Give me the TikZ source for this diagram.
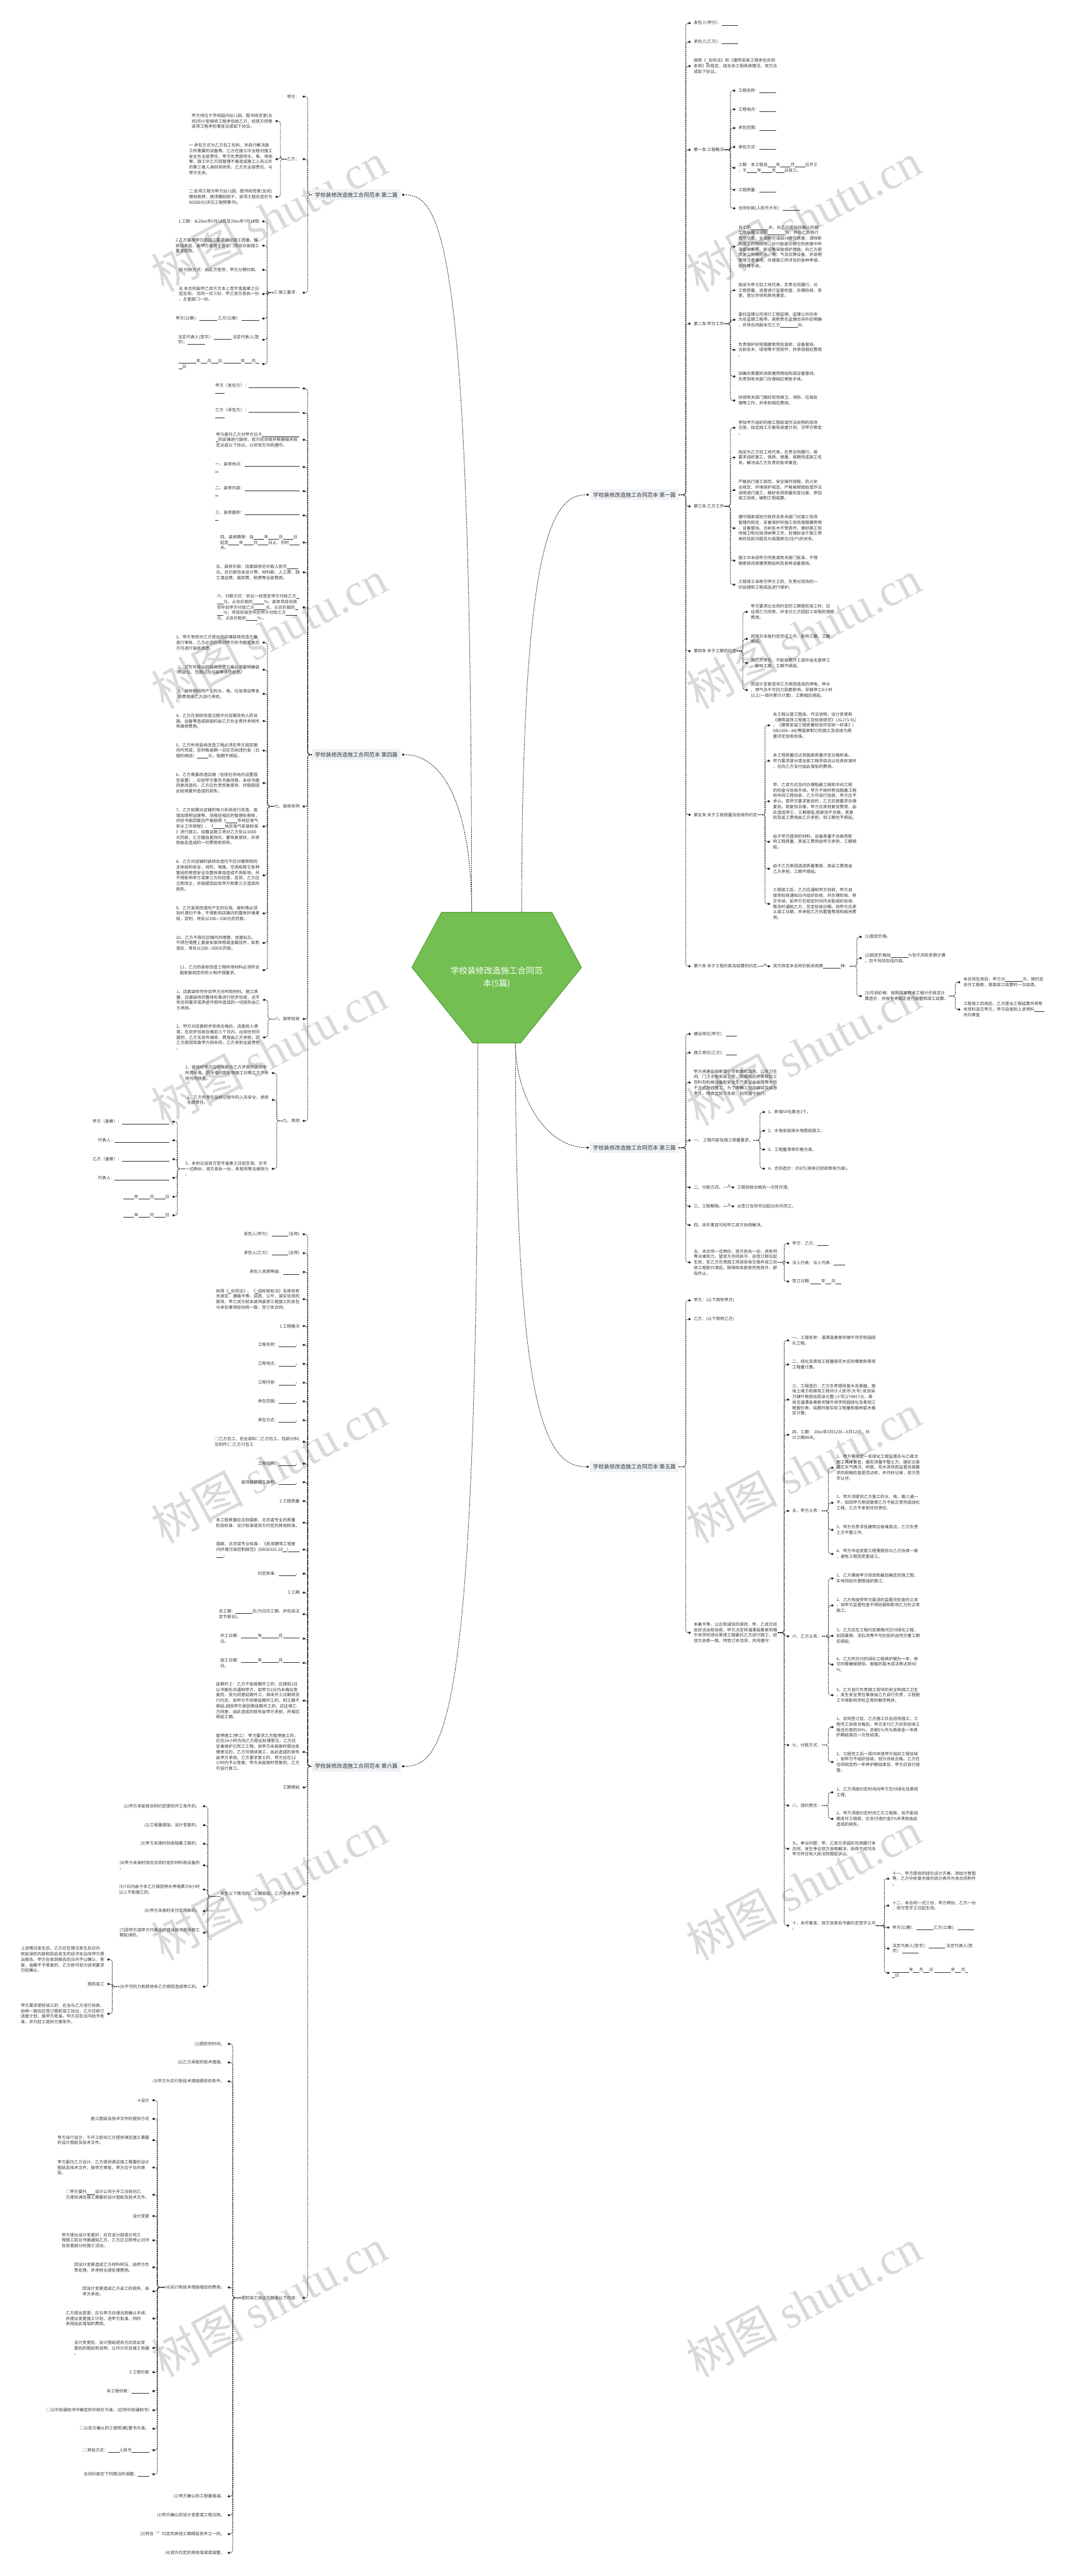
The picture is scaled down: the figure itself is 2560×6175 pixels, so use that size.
\documentclass[tikz,border=0pt]{standalone}
\usepackage{fontspec}
\setmainfont{Noto Sans CJK SC}
\newfontfamily\wmlatin{Liberation Serif}
\usetikzlibrary{shapes.geometric}
\definecolor{hexgreen}{HTML}{74BF52}
\definecolor{hexborder}{HTML}{5EA63E}
\definecolor{lblbg}{HTML}{EEF1F5}
\definecolor{ink}{HTML}{333333}
\newcommand\leaffont{\fontsize{10}{13.2}\selectfont}
\newcommand\lblfont{\fontsize{13}{16}\selectfont}
\newcommand\rootfont{\fontsize{20}{30}\selectfont}
\newcommand\wmfont{\fontsize{110}{110}\selectfont}
\newcommand\bl[1]{\rule[-1.5pt]{#1pt}{0.6pt}}
\tikzset{
  conn/.style={draw=black!80, line width=1.4pt, dash pattern=on 3pt off 2pt, rounded corners=6pt},
  dmd/.style={diamond, fill=black!85, draw=none, inner sep=0pt, minimum width=7pt, minimum height=6pt},
  lleaf/.style={anchor=east, align=left, inner sep=1pt, font=\leaffont, text=ink},
  rleaf/.style={anchor=west, align=left, inner sep=1pt, font=\leaffont, text=ink},
  lbl/.style={fill=lblbg, inner xsep=7pt, inner ysep=7pt, font=\lblfont, text=ink},
  wm/.style={rotate=28, text=black!15, font=\wmfont, inner sep=0pt},
  rootnode/.style={align=center, text=white, font=\rootfont, minimum width=406pt, minimum height=313pt, inner sep=0pt}
}
\newcommand\LC[5]{%
  \coordinate (sp) at ({#3+9},0);
  \node[dmd] (#2d) at (#3,-#4) {};
  \node[lleaf] (#2) at ({#3-9},-#4) {#5};
  \draw[conn] (#1.west) -- (#1.west -| sp) |- (#2d);
}
\newcommand\RC[5]{%
  \coordinate (sp) at ({#3-9},0);
  \node[dmd] (#2d) at (#3,-#4) {};
  \node[rleaf] (#2) at ({#3+9},-#4) {#5};
  \draw[conn] (#1.east) -- (#1.east -| sp) |- (#2d);
}
\begin{document}
\begin{tikzpicture}[x=1pt,y=1pt]
\useasboundingbox (0,0) rectangle (2560,-6175);
\fill[white] (0,0) rectangle (2560,-6175);

% watermarks
\node[wm] (wm1) at (645,-520) {树图 {\wmlatin shutu.cn}};
\node[wm] (wm2) at (645,-1520) {树图 {\wmlatin shutu.cn}};
\node[wm] (wm3) at (645,-2520) {树图 {\wmlatin shutu.cn}};
\node[wm] (wm4) at (645,-3520) {树图 {\wmlatin shutu.cn}};
\node[wm] (wm5) at (645,-4520) {树图 {\wmlatin shutu.cn}};
\node[wm] (wm6) at (645,-5520) {树图 {\wmlatin shutu.cn}};
\node[wm] (wm7) at (1925,-520) {树图 {\wmlatin shutu.cn}};
\node[wm] (wm8) at (1925,-1520) {树图 {\wmlatin shutu.cn}};
\node[wm] (wm9) at (1925,-2520) {树图 {\wmlatin shutu.cn}};
\node[wm] (wm10) at (1925,-3520) {树图 {\wmlatin shutu.cn}};
\node[wm] (wm11) at (1925,-4520) {树图 {\wmlatin shutu.cn}};
\node[wm] (wm12) at (1925,-5520) {树图 {\wmlatin shutu.cn}};

% central node
\filldraw[fill=hexgreen, draw=hexborder, line width=2pt] (987,-2319) -- (1058,-2187) -- (1322,-2187) -- (1393,-2319) -- (1247,-2500) -- (1133,-2500) -- cycle;
\node[rootnode] (root) at (1190,-2343) {学校装修改造施工合同范\\本(5篇)};

% branch labels
\node[lbl, anchor=east] (L2) at (960,-467) {学校装修改造施工合同范本 第二篇};
\node[dmd] (L2d) at (966,-467) {};
\node[lbl, anchor=east] (L4) at (960,-1809) {学校装修改造施工合同范本 第四篇};
\node[dmd] (L4d) at (966,-1809) {};
\node[lbl, anchor=east] (L6) at (960,-4234) {学校装修改造施工合同范本 第六篇};
\node[dmd] (L6d) at (966,-4234) {};
\node[lbl, anchor=west] (R1) at (1414,-1186) {学校装修改造施工合同范本 第一篇};
\node[dmd] (R1d) at (1408,-1186) {};
\node[lbl, anchor=west] (R3) at (1414,-2751) {学校装修改造施工合同范本 第三篇};
\node[dmd] (R3d) at (1408,-2751) {};
\node[lbl, anchor=west] (R5) at (1414,-3516) {学校装修改造施工合同范本 第五篇};
\node[dmd] (R5d) at (1408,-3516) {};

\draw[conn] ([xshift=-60pt]root.north) .. controls (1130,-587) and (1060,-467) .. (L2d);
\draw[conn] ([xshift=-60pt]root.north) .. controls (1130,-1929) and (1060,-1809) .. (L4d);
\draw[conn] ([xshift=-45pt]root.south) .. controls (1145,-4114) and (1070,-4234) .. (L6d);
\draw[conn] ([xshift=60pt]root.north) .. controls (1250,-1306) and (1320,-1186) .. (R1d);
\draw[conn] ([xshift=45pt]root.south) .. controls (1235,-2631) and (1310,-2751) .. (R3d);
\draw[conn] ([xshift=45pt]root.south) .. controls (1235,-3396) and (1310,-3516) .. (R5d);

% ===== 第二篇 =====
\LC{L2}{A1}{728}{231.6}{甲方：}
\LC{L2}{A2}{728}{381.5}{乙方：}
\LC{L2}{A3}{728}{701.7}{三 施工要求：}
\LC{A2}{A21}{663}{290.3}{甲方将位于学校园内幼儿园，图书阅览室(五\\间)的小型维修工程承包给乙方，经双方同意\\该项工程承包事宜达成如下协议。}
\LC{A2}{A22}{663}{381.5}{一 承包方式为乙方包工包料，并自行解决施\\工所需要的设备等。乙方在施工中全程对施工\\安全负全部责任，甲方负责提供水，电，场地\\等。施工中乙方因管理不善造成施工人员以外\\的第三者人身财务损失，乙方负全部责任，与\\甲方无关。}
\LC{A2}{A23}{663}{472}{二 此项工程为甲方幼儿园。图书阅览室(五间)\\铺地板砖，换顶棚刮腻子。该项工程总造价为\\50300元(详见工程预算书)。}
\LC{A3}{A31}{631}{530.7}{1 工期：从20xx年5月18日至20xx年7月18日}
\LC{A3}{A32}{631}{588.8}{2 乙方要按甲方的施工要求保证施工质量，维\\修结束后，由甲方邀请主管部门项目办按施工\\要求验收。}
\LC{A3}{A33}{631}{646.8}{四 付款方式：由乙方垫资，甲方分期付款。}
\LC{A3}{A34}{631}{704.8}{五 本合同由甲乙双方文本上签字或盖章之日\\起生效。 合同一式三份，甲乙双方各执一份\\，主管部门一份。}
\LC{A3}{A35}{631}{763.5}{甲方(公章)：\bl{42} 乙方(公章)：\bl{42}}
\LC{A3}{A36}{631}{814.5}{法定代表人(签字)：\bl{42} 法定代表人(签\\字)：\bl{42}}
\LC{A3}{A37}{631}{872.6}{\bl{42}年\bl{16}月\bl{16}日 \bl{42}年\bl{16}月\bl{8}\\\bl{8}日}

% ===== 第四篇 =====
\LC{L4}{B1}{728}{931.3}{甲方（发包方）：\bl{122}\\\bl{22}}
\LC{L4}{B2}{728}{990}{乙方（承包方）：\bl{122}\\\bl{22}}
\LC{L4}{B3}{728}{1054.3}{甲方委托乙方对甲方位于\bl{90}\\\bl{5}的店铺进行装修，双方经协商并根据相关规\\定达成以下协议，以供双方共同遵守。}
\LC{L4}{B4}{728}{1119.4}{一、装修地点：\bl{132}\\\bl{8}}
\LC{L4}{B5}{728}{1177.4}{二、装修内容：\bl{132}\\\bl{8}}
\LC{L4}{B6}{728}{1235.5}{三、装修面积：\bl{132}\\\bl{8}}
\LC{L4}{B7}{728}{1300.5}{四、装修期限：自\bl{25}年\bl{25}月\bl{25}日\\起至\bl{25}年\bl{25}月\bl{25}日止，历时\bl{25}\\天。}
\LC{L4}{B8}{728}{1372}{五、装修价款：店面装修总价款人民币\bl{27}\\元。总价款包含设计费、材料款、人工费、施\\工清运费、装卸费、税费等全部费用。}
\LC{L4}{B9}{728}{1456.1}{六、付款方式：协议一经签定甲方付给乙方\bl{8}\\\bl{16}元，占总价款的\bl{27}\%；装修项目验收\\完毕后甲方付给乙方\bl{27}元，占总价款的\bl{8}\\\bl{16}\%；项目验收完毕后甲方付给乙方\bl{27}\\元，占总价款的\bl{27}\% 。}
\LC{L4}{B10}{728}{1933.2}{七、装修条例}
\LC{L4}{B11}{728}{2442.7}{八、装修验收}
\LC{L4}{B12}{728}{2687}{九、其他}
\LC{B10}{B10a}{632}{1540.3}{1、甲方有权对乙方提出的店铺装修改造方案\\进行审核，乙方必须在得到甲方的书面批复后\\方可进行装修改造。}
\LC{B10}{B10b}{632}{1605.4}{2、乙方所提出的装修改造方案必须要明确装\\饰部位、范围以及内容等详尽信息。}
\LC{B10}{B10c}{632}{1663.4}{3、装修期间所产生的水、电、垃圾清运等各\\项费用由乙方自行承担。}
\LC{B10}{B10d}{632}{1728.4}{4、乙方在装修改造过程中对店铺及他人的设\\施、设备等造成损毁的由乙方负全责并承担所\\有维修费用。}
\LC{B10}{B10e}{632}{1799.2}{5、乙方所有装修改造工程必须在甲方规定期\\间内完成，否则每逾期一日应交纳违约金（日\\租的两倍）\bl{27}元，租期不顺延。}
\LC{B10}{B10f}{632}{1877}{6、乙方需要改造店铺（包括在场地内设置固\\定装置），应经甲方事先书面同意。未经书面\\同意改造的，乙方应负责恢复原状，并赔偿因\\此给商厦所造成的损失。}
\LC{B10}{B10g}{632}{1981}{7、乙方如需对店铺的电力系统进行改造，或\\增加照明设施等，须报经相应的管理处审核，\\并经书面回复后严格按照《\bl{27}市地区电气\\安全工作规程》、《\bl{27}地区电气安装标准\\》进行施工。如擅自施工将对乙方处以1000\\元罚款，乙方擅自更改的，要恢复原状，并承\\担由此造成的一切费用和损失。}
\LC{B10}{B10h}{632}{2098.3}{8、乙方对店铺的装修改造均不应对建筑物的\\主体结构安全，消防、电路、空调和其它各种\\管线的使用安全及整体美观造成不良影响，并\\不得影响甲方或第三方的经营，否则，乙方应\\立即改正，并赔偿因此给甲方和第三方造成的\\损失。}
\LC{B10}{B10i}{632}{2189.5}{9、乙方装修改造所产生的垃圾、废料等必须\\及时清扫干净，不得影响店铺内的整体环境美\\观，否则，将处以200—500元的罚款。}
\LC{B10}{B10j}{632}{2260.3}{10、乙方不得在店铺内的墙壁、地面钻孔，\\不得在墙壁上直接安装饰物或金属挂件，如有\\违反，将处以200—500元罚款。}
\LC{B10}{B10k}{632}{2325.4}{11、乙方的装修改造工程所用材料必须符合\\国家按规定的防火和环保要求。}
\LC{B11}{B11a}{633}{2396.8}{1、店面装修完毕后甲方对所用材料、施工质\\量、店面装修的整体形象进行初步验收，达不\\到合同要求或弄虚作假所造成的一切损失由乙\\方承担。}
\LC{B11}{B11b}{633}{2486.7}{2、甲方对店面初步验收合格后，店面投入使\\用，在初步验收合格后三个月内，出现任何问\\题的，乙方无条件维修，费用由乙方承担。因\\乙方原因导致甲方损失的，乙方承担全部责任\\。}
\LC{B12}{B12a}{654}{2572.2}{1、装修时甲方应积极配合乙方并提供装修中\\所用水电。因水电问题影响施工日期乙方不承\\担任何损失。}
\LC{B12}{B12b}{654}{2636.6}{2、乙方负责在装修过程中的人员安全，承担\\全部责任。}
\LC{B12}{B12c}{654}{2801.8}{3、本协议自双方签字盖章之日起生效。文书\\一式两份，双方各执一份，具有同等法律效力\\。}
\LC{B12c}{B12c1}{416}{2688.9}{甲方（盖章）：\bl{114}}
\LC{B12c}{B12c2}{416}{2733.5}{代表人：\bl{131}}
\LC{B12c}{B12c3}{416}{2778.8}{乙方（盖章）：\bl{114}}
\LC{B12c}{B12c4}{416}{2823.5}{代表人：\bl{131}}
\LC{B12c}{B12c5}{416}{2868.7}{\bl{27}年\bl{27}月\bl{27}日}
\LC{B12c}{B12c6}{416}{2913.4}{\bl{27}年\bl{27}月\bl{27}日}

% ===== 第六篇 =====
\LC{L6}{C1}{728}{2958.7}{发包人(甲方)：\bl{40}(全称)}
\LC{L6}{C2}{728}{3003.9}{承包人(乙方)：\bl{40}(全称)}
\LC{L6}{C3}{728}{3049.2}{承包人资质等级：\bl{40}}
\LC{L6}{C4}{728}{3114.3}{依照《\bl{5}合同法》、《\bl{5}招标投标法》及其他有\\关规定，遵循平等、自愿、公平、诚实信用的\\原则，甲乙双方就本装饰装修工程施工的发包\\与承包事项经协商一致，签订本合同。}
\LC{L6}{C5}{728}{3178.7}{1 工程概况}
\LC{L6}{C6}{728}{3224}{工程名称：\bl{40}。}
\LC{L6}{C7}{728}{3269.3}{工程地点：\bl{40}。}
\LC{L6}{C8}{728}{3314.5}{工程内容：\bl{40}。}
\LC{L6}{C9}{728}{3359.2}{承包范围：\bl{40}。}
\LC{L6}{C10}{728}{3404.5}{承包方式：\bl{40}。}
\LC{L6}{C11}{728}{3456.1}{□乙方包工、包全部料□乙方包工、包部分料(\\见附件)□乙方只包工}
\LC{L6}{C12}{728}{3508.4}{工程结构：\bl{40}。}
\LC{L6}{C13}{728}{3553}{装饰装修施工面积：\bl{40}。}
\LC{L6}{C14}{728}{3598.3}{2 工程质量}
\LC{L6}{C15}{728}{3650}{本工程质量应达到国家、北京或专业的质量\\检验标准、设计标准或双方约定的其他标准。}
\LC{L6}{C16}{728}{3714.4}{国家、北京或专业标准：《民用建筑工程室\\内环境污染控制规范》(GB50325-20\bl{10})\bl{27}\\\bl{17}。}
\LC{L6}{C17}{728}{3772.4}{约定标准：\bl{40}。}
\LC{L6}{C18}{728}{3817.7}{3 工期}
\LC{L6}{C19}{728}{3869.4}{总工期：\bl{40}日(为日历工期，并包括法\\定节假日)。}
\LC{L6}{C20}{728}{3928}{开工日期：\bl{40}年\bl{40}月\bl{40}\\日。}
\LC{L6}{C21}{728}{3986.1}{竣工日期：\bl{40}年\bl{40}月\bl{40}\\日。}
\LC{L6}{C22}{728}{4076.7}{延期开工：乙方不能按期开工的，应提前2日\\以书面形式通知甲方，如甲方2日内未做出答\\复的，视为同意延期开工，具体开工日期将另\\行约定。如甲方不同意延期开工的，则工期不\\顺延;如因甲方原因需延期开工的，应征得乙\\方同意，由此造成的损失由甲方承担，并相应\\顺延工期。}
\LC{L6}{C23}{728}{4199.7}{暂停施工(停工)：甲方要求乙方暂停施工的，\\应在24小时内向乙方提出处理意见，乙方应\\妥善保护已完工工程。如甲方未能按时提出处\\理意见的，乙方可继续施工，由此造成的损失\\由甲方承担。乙方要求复工的，甲方应在12\\小时内予以答复。甲方未能按时答复的，乙方\\可自行复工。}
\LC{L6}{C24}{728}{4284.6}{工期顺延}
\LC{L6}{C25}{728}{4546}{发生以下情况的，工期顺延，乙方不承担责\\任：}
\LC{L6}{C26}{728}{5508.2}{提前竣工协议应包含以下内容：}
\LC{C25}{C25a}{489}{4329.8}{(1)甲方未能按合同约定提供开工条件的。}
\LC{C25}{C25b}{489}{4375.1}{(2)工程量增加、设计变更的。}
\LC{C25}{C25c}{489}{4419.8}{(3)甲方未按时验收隐蔽工程的。}
\LC{C25}{C25d}{489}{4471.4}{(4)甲方未按时供应合同约定的材料和设备的\\。}
\LC{C25}{C25e}{489}{4529.5}{(5)7日内由于非乙方原因停水停电累计8小时\\以上不能施工的。}
\LC{C25}{C25f}{489}{4581.1}{(6)甲方未按时支付工程款的。}
\LC{C25}{C25g}{489}{4632.8}{(7)因甲方或甲方代表坚持错误指令而导致工\\期延误的。}
\LC{C25}{C25h}{489}{4762.2}{(8)不可抗力和其他非乙方原因造成停工的。}
\LC{C25h}{C25h1}{260}{4697.2}{上述情况发生后，乙方应在情况发生后日内\\就延误的内容和因此发生的经济支出向甲方提\\出报告，甲方在收到报告后日内予以确认、答\\复，逾期不予答复的，乙方即可视为该项要求\\已经确认。}
\LC{C25h}{C25h2}{260}{4755.9}{提前竣工}
\LC{C25h}{C25h3}{260}{4827.3}{甲方要求提前竣工的，应当与乙方进行协商，\\协商一致后应签订提前竣工协议，乙方应修订\\进度计划，报甲方批准。甲方应在日内给予批\\准，并为赶工提供方便条件。}
\LC{C26}{C26a}{548.5}{4899.4}{(1)提前的时间。}
\LC{C26}{C26b}{548.5}{4944}{(2)乙方采取的技术措施。}
\LC{C26}{C26c}{548.5}{4989.3}{(3)甲方为实行新技术措施提供的条件。}
\LC{C26}{C26d}{548.5}{5483.3}{(4)实行新技术措施增加的费用。}
\LC{C26}{C26e}{548.5}{5984}{(1)甲方确认的工程量增减。}
\LC{C26}{C26f}{548.5}{6029.1}{(2)甲方确认的设计变更或工程洽商。}
\LC{C26}{C26g}{548.5}{6074.2}{(3)符合“”约定的其他工期顺延条件之一的。}
\LC{C26}{C26h}{548.5}{6119.3}{(4)双方约定的其他增减或调整。}
\LC{C26d}{C26d1}{368}{5034.6}{4 设计}
\LC{C26d}{C26d2}{368}{5079.2}{施工图纸及技术文件的提供方式}
\LC{C26d}{C26d3}{368}{5130.2}{甲方自行设计，于开工前向乙方提供满足施工需要\\的设计图纸及技术文件。}
\LC{C26d}{C26d4}{368}{5195.8}{甲方委托乙方设计，乙方提供满足施工需要的设计\\图纸及技术文件，报甲方审批，甲方应于日内审\\批。}
\LC{C26d}{C26d5}{368}{5261.1}{□甲方委托\bl{20}设计公司于开工日前向乙\\方提供满足施工需要的设计图纸及技术文件。}
\LC{C26d}{C26d6}{368}{5312.1}{设计变更}
\LC{C26d}{C26d7}{368}{5370.3}{甲方提出设计变更的，应在该分部或分项工\\程施工前日书面通知乙方，乙方应立即停止对涉\\及变更部分的施工活动。}
\LC{C26d}{C26d8}{368}{5435}{因设计变更造成乙方材料积压，由甲方负\\责处理，并承担全部处理费用。}
\LC{C26d}{C26d9}{368}{5492.5}{因设计变更造成乙方返工的损失，由\\甲方承担。}
\LC{C26d}{C26d10}{368}{5557.8}{乙方提出变更，应与甲方办理洽商确认手续，\\并提出变更施工计划，送甲方批准，同时\\承担由此增加的费用。}
\LC{C26d}{C26d11}{368}{5628.4}{设计变更后，设计图纸提供方应给出变\\更后的图纸和说明，以作计价及施工依据\\。}
\LC{C26d}{C26d12}{368}{5686.6}{5 工程价款}
\LC{C26d}{C26d13}{368}{5731.7}{本工程价款：\bl{42}}
\LC{C26d}{C26d14}{368}{5777.5}{□以中标通知书中确定的中标价为准。(应附中标通知书)}
\LC{C26d}{C26d15}{368}{5821.9}{□以双方确认的工程预(概)算书为准。}
\LC{C26d}{C26d16}{368}{5873.5}{□其他方式：\bl{27}人民币\bl{42}}
\LC{C26d}{C26d17}{368}{5931}{合同价款在下列情况时调整：\bl{27}}

% ===== 第一篇 =====
\RC{R1}{D1}{1652}{55.5}{发包人(甲方)：\bl{40}}
\RC{R1}{D2}{1652}{100.4}{承包人(乙方)：\bl{40}}
\RC{R1}{D3}{1652}{158.6}{按照《\bl{5}合同法》和《建筑安装工程承包合同\\条例》的规定，结合本工程具体情况，双方达\\成如下协议。}
\RC{R1}{D4}{1652}{359.1}{第一条 工程概况}
\RC{R1}{D5}{1652}{775.9}{第二条 甲方工作}
\RC{R1}{D6}{1652}{1213.7}{第三条 乙方工作}
\RC{R1}{D7}{1652}{1560.6}{第四条 关于工期的约定}
\RC{R1}{D8}{1652}{1953}{第五条 关于工程质量及验收的约定}
\RC{R1}{D9}{1652}{2316.2}{第六条 关于工程价款及结算的约定}
\RC{D4}{D4a}{1759}{217.2}{工程名称：\bl{40}.}
\RC{D4}{D4b}{1759}{262.1}{工程地点：\bl{40}.}
\RC{D4}{D4c}{1759}{307}{承包范围：\bl{40}.}
\RC{D4}{D4d}{1759}{352.4}{承包方式：\bl{40}.}
\RC{D4}{D4e}{1759}{402.4}{工期：本工程自\bl{20}年\bl{25}月\bl{25}日开工\\，于\bl{25}年\bl{25}月\bl{20}日竣工。}
\RC{D4}{D4f}{1759}{455}{工程质量：\bl{40}.}
\RC{D4}{D4g}{1759}{499.4}{合同价款(人民币大写)：\bl{40}.}
\RC{D5}{D5a}{1759}{591.2}{开工前\bl{42}天，向乙方提供经确认的施\\工图纸做法说明\bl{42}份，并向乙方进行\\现场交底。全部腾空或部分腾空房屋，清除影\\响施工的障碍物。对只能部分腾空的房屋中所\\滞留的家具、陈设等采取保护措施。向乙方提\\供施工所需的水、电、气及讯等设备，并说明\\使用注意事项。办理施工所涉及的各种申请、\\批件等手续。}
\RC{D5}{D5b}{1759}{695.8}{指派为甲方驻工地代表，负责合同履行。对\\工程质量、进度进行监督检查，办理验收、变\\更、登记手续和其他事宜。}
\RC{D5}{D5c}{1759}{766.7}{委托监理公司进行工程监理，监理公司任命\\为总监理工程师，其职责在监理合同中应明确\\，并将合同副本交乙方\bl{42}份。}
\RC{D5}{D5d}{1759}{838.7}{负责保护好周围建筑物及装修、设备管线、\\古树名木、绿地等不受损坏，并承担相应费用\\。}
\RC{D5}{D5e}{1759}{902.4}{如确实需要拆改原建筑物结构或设备管线，\\负责到有关部门办理相应审批手续。}
\RC{D5}{D5f}{1759}{960.1}{协调有关部门做好现场保卫、消防、垃圾处\\理等工作，并承担相应费用。}
\RC{D6}{D6a}{1759}{1025.4}{参加甲方组织的施工图纸或作法说明的现场\\交底，拟定施工方案和进度计划，交甲方审定\\。}
\RC{D6}{D6b}{1759}{1096.8}{指派为乙方驻工地代表，负责合同履行。按\\要求组织施工，保质、保量、按期完成施工任\\务，解决由乙方负责的各项事宜。}
\RC{D6}{D6c}{1759}{1174.9}{严格执行施工规范、安全操作规程、防火安\\全规定、环境保护规定。严格按照图纸或作法\\说明进行施工，做好各项质量检查记录。参加\\竣工验收，编制工程结算。}
\RC{D6}{D6d}{1759}{1266.2}{遵守国家或地方政府及有关部门对施工现场\\管理的规定，妥善保护好施工现场周围建筑物\\、设备管线、古树名木不受损坏。做好施工现\\场保卫和垃圾消纳等工作，处理好由于施工带\\来的扰民问题及与周围单位(住户)的关系。}
\RC{D6}{D6e}{1759}{1343.8}{施工中未经甲方同意或有关部门批准，不得\\随意拆改原建筑物结构及各种设备管线。}
\RC{D6}{D6f}{1759}{1401.4}{工程竣工未移交甲方之前，负责对现场的一\\切设施和工程成品进行保护。}
\RC{D7}{D7a}{1789}{1466.7}{甲方要求比合同约定的工期提前竣工时，应\\征得乙方同意，并支付乙方因赶工采取的措施\\费用。}
\RC{D7}{D7b}{1789}{1531.5}{因甲方未按约定完成工作，影响工期，工期\\顺延。}
\RC{D7}{D7c}{1789}{1589.2}{因乙方责任，不能按期开工或中途无故停工\\，影响工期，工期不顺延。}
\RC{D7}{D7d}{1789}{1654}{因设计变更或非乙方原因造成的停电、停水\\、停气及不可抗力因素影响，导致停工8小时\\以上(一周内累计计算)，工期相应顺延。}
\RC{D8}{D8a}{1842}{1738.7}{本工程以施工图纸、作法说明、设计变更和\\《建筑装饰工程施工及验收规范》(JGJ73-91)\\、《建筑安装工程质量检验评定统一标准》(\\GBJ300—88)等国家制订的施工及验收为质\\量评定验收标准。}
\RC{D8}{D8b}{1842}{1823.9}{本工程质量应达到国家质量评定合格标准。\\甲方要求部分或全部工程项目达以优良标准时\\，应向乙方支付由此增加的费用。}
\RC{D8}{D8c}{1842}{1920.8}{甲、乙双方应及时办理隐蔽工程和中间工程\\的检查与验收手续。甲方不按时参加隐蔽工程\\和中间工程验收，乙方可自行验收，甲方应予\\承认。若甲方要求复验时，乙方应按要求办理\\复验。若复验合格，甲方应承担复验费用，由\\此造成停工，工期顺延;若复验不合格，其复\\验及返工费用由乙方承担，但工期也予顺延。}
\RC{D8}{D8d}{1842}{2017.8}{由于甲方提供的材料、设备质量不合格而影\\响工程质量，其返工费用由甲方承担，工期顺\\延。}
\RC{D8}{D8e}{1842}{2082.6}{由于乙方原因造成质量事故，其返工费用由\\乙方承担，工期不顺延。}
\RC{D8}{D8f}{1842}{2166.7}{工程竣工后，乙方应通知甲方验收，甲方自\\接到验收通知日内组织验收，并办理验收、移\\交手续。如甲方在规定时间内未能组织验收，\\需及时通知乙方，另定验收日期。但甲方应承\\认竣工日期，并承担乙方的看管费用和相关费\\用。}
\RC{D9}{D9a}{1842}{2316.2}{双方商定本合同价款采用第\bl{42}种：}
\RC{D9a}{D9a1}{2062}{2245.8}{(1)固定价格。}
\RC{D9a}{D9a2}{2062}{2296.8}{(2)固定价格加\bl{42}\%包干风险系数计算\\。包干风险包括内容。}
\RC{D9a}{D9a3}{2062}{2387.7}{(3)可调价格：按照国家有关工程计价规定计\\算造价，并按有关规定进行调整和竣工结算。}
\RC{D9a3}{D9a3a}{2298}{2354.5}{本合同生效后，甲方分\bl{42}次，按约定\\支付工程款，尾款竣工结算时一次结清。}
\RC{D9a3}{D9a3b}{2298}{2419.8}{工程竣工验收后，乙方提出工程结算并将有\\关资料送交甲方。甲方自接到上述资料\bl{25}\\天内审查}

% ===== 第三篇 =====
\RC{R3}{E1}{1652}{2478.5}{建设单位(甲方)：\bl{27}}
\RC{R3}{E2}{1652}{2523.4}{施工单位(乙方)：\bl{27}}
\RC{R3}{E3}{1652}{2594.8}{甲方承建盐田希望小学新增化粪池、公共卫生\\间、门卫水电安装工程，现委托乙方采取包工\\包料包机械设备包安全生产及安全设施等大包\\干方式进行施工，为了明确工程内容以及双方\\责任，特商定如下条款，共同遵守执行。}
\RC{R3}{E4}{1652}{2733.6}{一、 工程内容及施工质量要求。}
\RC{R3}{E5}{1652}{2846.3}{二、付款方式。}
\RC{R3}{E6}{1652}{2891.7}{三、工程期限。}
\RC{R3}{E7}{1652}{2936.6}{四、未尽事宜可经甲乙双方协商解决。}
\RC{R3}{E8}{1652}{3026}{五、本合同一式两份，双方各执一份，具有同\\等法律效力。望双方共同执守，自签订即日起\\生效，至乙方负责施工项目验收交接并竣工验\\收工程款付清后，除保修条款依然有效外，即\\告终止。}
\RC{E4}{E4a}{1830}{2665.7}{1、新增5\#化粪池1个。}
\RC{E4}{E4b}{1830}{2710.6}{2、水电安装按水电图纸施工。}
\RC{E4}{E4c}{1830}{2755.5}{3、工程量清单价格为准。}
\RC{E4}{E4d}{1830}{2801.4}{4、合同造价：约8万(具体已财政审核为准)。}
\RC{E5}{E5a}{1756}{2846.3}{工程验收合格后一次性付清。}
\RC{E6}{E6a}{1756}{2891.7}{从签订合同书日起50天内完工。}
\RC{E8}{E8a}{1888}{2981}{甲方：乙方：\bl{27}}
\RC{E8}{E8b}{1888}{3026.9}{法人代表：法人代表：\bl{27}}
\RC{E8}{E8c}{1888}{3071.8}{签订日期:\bl{27}年\bl{14}月\bl{14}}

% ===== 第五篇 =====
\RC{R5}{F1}{1652}{3117.2}{甲方：(以下简称甲方)}
\RC{R5}{F2}{1652}{3162.1}{乙方：(以下简称乙方)}
\RC{R5}{F3}{1652}{3913.7}{本着平等、公正和诚信的原则，甲、乙双方经\\友好洽谈和协商，甲方决定将湄潭县黄家坝镇\\牛场学校绿化景观工程委托乙方进行施工，经\\双方协商一致，特签订本合同，共同遵守：}
\RC{F3}{Fa}{1888}{3213.2}{一、工程名称：湄潭县黄家坝镇牛场学校园绿\\化工程。}
\RC{F3}{Fb}{1888}{3270.8}{二、绿化及景观工程量按花木实际棵数和景观\\工程量计算。}
\RC{F3}{Fc}{1888}{3355}{三、工程造价：乙方负责提供苗木及栽植、栽\\培土填方和景观工程共计人民币(大写) 贰拾柒\\万肆仟捌佰伍拾柒元整 (小写)274857元，具\\体见湄潭县黄家坝镇牛场学校园绿化及景观工\\程报价表，结算时按实际工程量和栽种苗木据\\实计算。}
\RC{F3}{Fd}{1888}{3439.2}{四、工期： 20xx年3月12日—6月12日，共\\计工期90天。}
\RC{F3}{Fe}{1888}{3621.8}{五、甲方义务：}
\RC{F3}{Ff}{1888}{3922.3}{六、乙方义务：}
\RC{F3}{Fg}{1888}{4183}{七、付款方式：}
\RC{F3}{Fh}{1888}{4328}{八、违约责任：}
\RC{F3}{Fi}{1888}{4431.7}{九、争议问题：甲、乙双方须诚实信用履行本\\合同，发生争议双方协商解决，协商不成可向\\甲方所在地人民法院提起诉讼。}
\RC{F3}{Fj}{1888}{4615.8}{十、未尽事宜，双方协商后书面约定签字认可\\。}
\RC{Fe}{Fe1}{1994}{3518.3}{1、甲方需指定一名绿化工程监督员与乙接洽\\施工具体事宜，据实测量平整土方、据实记录\\施工天气情况，树苗、花木进场前监督员按要\\求的规格检查是否达标，并作好记录，双方签\\字认可;}
\RC{Fe}{Fe2}{1994}{3602.4}{2、甲方须提供乙方施工的水、电、路三通一\\平，如因甲方原因致使乙方不能正常完成绿化\\工程，乙方不承担任何责任;}
\RC{Fe}{Fe3}{1994}{3667.2}{3、甲方负责寻找建筑垃圾堆放点，乙方负责\\土方平整工作;}
\RC{Fe}{Fe4}{1994}{3724.9}{4、甲方中途变更工程需提前与乙方协商一致\\，避免工程因变更返工。}
\RC{Ff}{Ff1}{1994}{3783.6}{1、乙方需按甲方修改和最后确定的施工图、\\实地测绘示意图组织施工;}
\RC{Ff}{Ff2}{1994}{3848.4}{2、乙方有接受甲方委派的监督员检查的义务\\，但甲方监督检查不得妨碍和影响乙方的正常\\施工;}
\RC{Ff}{Ff3}{1994}{3921.3}{3、乙方应在工程约定期限内交付绿化工程，\\如因暴雨、泥石流等不可抗拒的自然灾害工期\\应顺延;}
\RC{Ff}{Ff4}{1994}{3990.2}{4、乙方所交付的绿化工程养护期为一年，移\\交时需确保提供、栽植的苗木成活率达到90\\\%;}
\RC{Ff}{Ff5}{1994}{4063.5}{5、乙方自行负责施工现场的安全和施工卫生\\，发生安全责任事故由乙方自行负责，工程施\\工不得影响学校正常的教学秩序。}
\RC{Fg}{Fg1}{1994}{4140}{1、合同签订后，乙方施工队伍进场施工，工\\程完工验收合格后，甲方支付乙方实际验收工\\程总价款的95\%。余款5\%作为质保金一年养\\护期结束后一次性结清。}
\RC{Fg}{Fg2}{1994}{4223.7}{2、工程完工后一周内申请甲方组织工程验收\\，如甲方不组织验收，视为验收合格。乙方在\\合同规定的一年养护期结束后，甲方应自行接\\管。}
\RC{Fh}{Fh1}{1994}{4296.4}{1、乙方须按约定时间向甲方交付绿化及景观\\工程;}
\RC{Fh}{Fh2}{1994}{4360}{2、甲方须按约定时间乙方工程款，如不能如\\期支付工程款，应支付违约金5\%并承担由此\\造成的损失。}
\RC{Fj}{Fj1}{2128}{4503.5}{十一、甲方提供的绿化设计方案、测绘示意图\\等，乙方中标苗木报价统计表作为本合同附件\\。}
\RC{Fj}{Fj2}{2128}{4568}{十二、本合同一式三份，甲方两份、乙方一份\\，双方签字之日起生效。}
\RC{Fj}{Fj3}{2128}{4620.6}{甲方(公章)：\bl{40} 乙方(公章)：\bl{40}}
\RC{Fj}{Fj4}{2128}{4670.8}{法定代表人(签字)：\bl{40} 法定代表人(签\\字)：\bl{40}}
\RC{Fj}{Fj5}{2128}{4729.2}{\bl{40}年\bl{14}月\bl{14}日 \bl{40}年\bl{14}月\bl{6}\\\bl{6}日}
\end{tikzpicture}
\end{document}
